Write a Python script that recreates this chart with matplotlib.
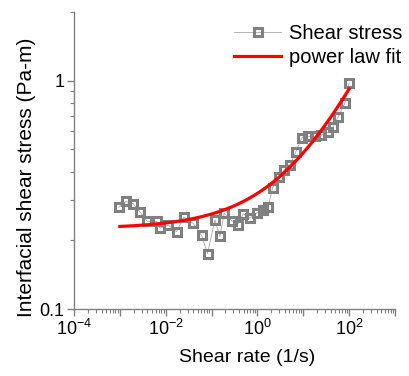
import numpy as np
import matplotlib
matplotlib.use("Agg")
import matplotlib.pyplot as plt
from matplotlib.ticker import LogLocator, FuncFormatter, NullFormatter, FixedLocator

plt.rcParams['font.family'] = ['Liberation Sans', 'DejaVu Sans']
plt.rcParams['mathtext.fontset'] = 'custom'
plt.rcParams['mathtext.rm'] = 'Liberation Sans'
plt.rcParams['mathtext.it'] = 'Liberation Sans'

# Measured shear stress vs shear rate
shear_rate = [10**v for v in [
    -3.019, -2.867, -2.707, -2.562, -2.402, -2.199, -2.126, -1.944, -1.763,
    -1.603, -1.400, -1.218, -1.087, -0.927, -0.818, -0.724, -0.564, -0.433,
    -0.310, -0.165, -0.019, 0.126, 0.235, 0.329, 0.474, 0.576, 0.707, 0.838,
    0.968, 1.106, 1.252, 1.397, 1.542, 1.651, 1.760, 1.906, 2.000]]
shear_stress = [
    0.279, 0.296, 0.289, 0.266, 0.242, 0.242, 0.226, 0.233, 0.218,
    0.253, 0.237, 0.210, 0.175, 0.246, 0.208, 0.263, 0.244, 0.234,
    0.261, 0.250, 0.263, 0.272, 0.281, 0.340, 0.380, 0.406, 0.427, 0.488,
    0.563, 0.571, 0.571, 0.577, 0.596, 0.627, 0.694, 0.797, 0.977]

# Power-law fit: tau = tau0 + K * rate^n
tau0 = 0.225
K = 0.096
n_exp = 0.43
fit_rate = np.logspace(-3, 2, 200)
fit_stress = tau0 + K * fit_rate ** n_exp

fig = plt.figure(figsize=(4.09, 3.76), dpi=100)
ax = fig.add_axes([74/409, 1 - 309/376, (395 - 74)/409, (309 - 12)/376])

gray = '#808080'
ax.plot(shear_rate, shear_stress, '-', color='#a8a8a8', lw=0.6,
        marker='s', ms=5.8, mfc='none', mec=gray, mew=2.2,
        label='Shear stress', zorder=2)
ax.plot(fit_rate, fit_stress, '-', color='#ff0000', lw=2.3,
        label='power law fit', zorder=3)

ax.set_xscale('log')
ax.set_yscale('log')
ax.set_xlim(1e-4, 1e3)
ax.set_ylim(0.1, 2)

for s in ['top', 'right']:
    ax.spines[s].set_visible(False)
for s in ['left', 'bottom']:
    ax.spines[s].set_color(gray)
    ax.spines[s].set_linewidth(1.0)

ax.xaxis.set_major_locator(FixedLocator([10.0**k for k in range(-4, 4)]))
ax.xaxis.set_minor_locator(LogLocator(base=10, subs=np.arange(2, 10), numticks=20))
ax.xaxis.set_minor_formatter(NullFormatter())


def xfmt(v, pos):
    e = int(round(np.log10(v)))
    if e % 2 == 0 and e <= 2:
        return r'$10^{%d}$' % e
    return ''


ax.xaxis.set_major_formatter(FuncFormatter(xfmt))
ax.yaxis.set_major_locator(FixedLocator([0.1, 1.0]))
ax.yaxis.set_minor_locator(LogLocator(base=10, subs=np.arange(2, 10), numticks=20))
ax.yaxis.set_minor_formatter(NullFormatter())
ax.yaxis.set_major_formatter(FuncFormatter(lambda v, p: '0.1' if v < 0.5 else '1'))

ax.tick_params(which='major', direction='out', length=5, width=1.0,
               color=gray, labelsize=13, pad=2)
ax.tick_params(which='minor', direction='out', length=3, width=0.8, color=gray)

ax.set_xlabel('Shear rate (1/s)', fontsize=14)
ax.set_ylabel('Interfacial shear stress (Pa-m)', fontsize=15)
ax.xaxis.set_label_coords(0.54, -0.135)
ax.yaxis.set_label_coords(-0.118, 0.445)

leg = ax.legend(loc='upper right', bbox_to_anchor=(1.06, 1.0), frameon=False,
                fontsize=14.5, handlelength=2.3, handletextpad=0.4,
                labelspacing=0.25, borderaxespad=0.2)

fig.savefig('out.png', dpi=100)
